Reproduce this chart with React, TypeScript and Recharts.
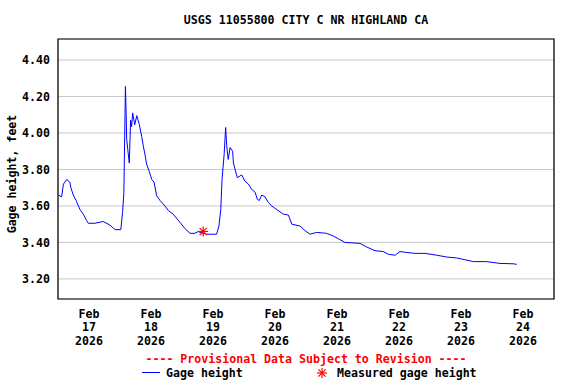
import { ComposedChart, Line, Scatter, XAxis, YAxis, CartesianGrid, ReferenceArea } from 'recharts';

// hours since Feb 17 2026 00:00
const hours = [
  0.1, 1.4, 2.1, 3.4, 4.6, 5.0, 5.9, 7.0, 8.5, 9.8, 11.1, 11.7, 14.3, 17.5, 20.1, 22.1,
  24.3, 25.0, 25.5, 26.1, 26.3, 26.6, 27.0, 27.6, 28.1, 28.5, 28.9, 29.7, 30.5, 31.5, 32.4,
  33.0, 33.7, 34.3, 35.3, 36.3, 37.2, 38.2, 39.5, 41.4, 42.7, 44.6, 47.2, 49.2, 51.1, 53.0,
  54.3, 55.0, 57.6, 61.4, 62.3, 63.0, 63.5, 64.3, 64.9, 65.3, 65.9, 66.6, 67.6, 67.9, 69.4,
  71.1, 72.4, 73.7, 75.0, 76.3, 77.2, 77.9, 78.9, 80.1, 81.4, 82.7, 84.7, 87.2, 89.2, 90.5,
  93.7, 95.6, 97.5, 100.1, 104.0, 106.6, 108.5, 111.1, 116.9, 119.5, 122.7, 125.9, 127.9,
  130.5, 132.4, 135.0, 138.2, 142.1, 146.6, 150.5, 154.3, 157.6, 160.8, 165.9, 171.1, 176.2, 177.6,
];

const gageHeight = [
  3.66, 3.65, 3.72, 3.745, 3.73, 3.70, 3.66, 3.63, 3.58, 3.555, 3.52, 3.505, 3.505, 3.515, 3.495, 3.47,
  3.47, 3.565, 3.675, 4.255, 4.155, 3.965, 3.91, 3.835, 4.07, 4.035, 4.11, 4.045, 4.095, 4.045, 3.98,
  3.93, 3.88, 3.83, 3.79, 3.745, 3.73, 3.655, 3.63, 3.60, 3.575, 3.555, 3.51, 3.475, 3.45, 3.45,
  3.46, 3.455, 3.445, 3.445, 3.49, 3.58, 3.745, 3.88, 4.03, 3.93, 3.855, 3.92, 3.90, 3.835, 3.755,
  3.77, 3.735, 3.72, 3.69, 3.675, 3.635, 3.63, 3.66, 3.65, 3.62, 3.60, 3.58, 3.555, 3.55, 3.50,
  3.49, 3.465, 3.445, 3.455, 3.45, 3.435, 3.42, 3.40, 3.395, 3.375, 3.355, 3.35, 3.335,
  3.33, 3.35, 3.345, 3.34, 3.34, 3.33, 3.32, 3.315, 3.305, 3.295, 3.295, 3.285, 3.283, 3.28,
];

const measuredHours = [56.2];
const measuredHeight = [3.46];

const labelTicks = [12, 36, 60, 84, 108, 132, 156, 180];
const dayTicks = [24, 48, 72, 96, 120, 144, 168];
const yTicks = [3.2, 3.4, 3.6, 3.8, 4.0, 4.2, 4.4];

const data = hours.map((t, i) => ({ t, gage: gageHeight[i] }));
const measured = measuredHours.map((t, i) => ({ t, m: measuredHeight[i] }));

const FONT = '"DejaVu Sans Mono", monospace';

const DateTick = ({ x, y, payload }: any) => {
  const day = 17 + Math.floor(payload.value / 24);
  return (
    <text x={x} y={y} textAnchor="middle" fontFamily={FONT} fontWeight="bold" fontSize={11.6} fill="#000">
      <tspan x={x} dy={11}>Feb</tspan>
      <tspan x={x} dy={13.3}>{day}</tspan>
      <tspan x={x} dy={13.3}>2026</tspan>
    </text>
  );
};

const Star = ({ cx, cy }: any) => {
  const r = 5;
  const d = 3.6;
  return (
    <g stroke="#ff0000" strokeWidth={1.2}>
      <line x1={cx - r} y1={cy} x2={cx + r} y2={cy} />
      <line x1={cx} y1={cy - r} x2={cx} y2={cy + r} />
      <line x1={cx - d} y1={cy - d} x2={cx + d} y2={cy + d} />
      <line x1={cx - d} y1={cy + d} x2={cx + d} y2={cy - d} />
    </g>
  );
};

const text = { fontFamily: FONT, fontWeight: 'bold' as const, fontSize: 11.6, lineHeight: '14px', whiteSpace: 'nowrap' as const };

export default function App() {
  return (
    <div style={{ position: 'absolute', left: 0, top: 0, width: 576, height: 384, background: '#fff' }}>
      <div style={{ ...text, position: 'absolute', left: 58, width: 496, top: 13, textAlign: 'center' }}>
        USGS 11055800 CITY C NR HIGHLAND CA
      </div>
      <div style={{ ...text, position: 'absolute', left: 12, top: 174, transform: 'translate(-50%, -50%) rotate(-90deg)' }}>
        Gage height, feet
      </div>
      <ComposedChart width={576} height={384} data={data} margin={{ top: 39, right: 22, left: 8, bottom: 35 }}>
        <CartesianGrid xAxisId="days" stroke="#c8c8c8" strokeWidth={1} />
        <XAxis
          dataKey="t"
          type="number"
          domain={[0, 192]}
          ticks={labelTicks}
          allowDataOverflow
          tick={<DateTick />}
          tickLine={false}
          axisLine={false}
          height={50}
          interval={0}
        />
        <XAxis
          xAxisId="days"
          dataKey="t"
          type="number"
          domain={[0, 192]}
          ticks={dayTicks}
          allowDataOverflow
          tick={false}
          tickLine={false}
          axisLine={false}
          height={0}
        />
        <YAxis
          type="number"
          domain={[3.09, 4.515]}
          ticks={yTicks}
          allowDataOverflow
          width={50}
          tickLine={false}
          axisLine={false}
          tickFormatter={(v: number) => v.toFixed(2)}
          tick={{ fontFamily: FONT, fontWeight: 'bold', fontSize: 11.6, fill: '#000' }}
          interval={0}
        />
        <ReferenceArea x1={0} x2={192} y1={3.09} y2={4.515} fill="none" stroke="#000" strokeWidth={1.2} />
        <Line
          type="linear"
          dataKey="gage"
          stroke="#0000ff"
          strokeWidth={1}
          dot={false}
          isAnimationActive={false}
        />
        <Scatter data={measured} dataKey="m" shape={<Star />} isAnimationActive={false} />
      </ComposedChart>
      <div style={{ ...text, position: 'absolute', left: 58, width: 496, top: 352, textAlign: 'center', color: '#ff0000' }}>
        ---- Provisional Data Subject to Revision ----
      </div>
      <div style={{ position: 'absolute', left: 142, top: 372, width: 18, height: 0, borderTop: '1px solid #0000ff' }} />
      <div style={{ ...text, position: 'absolute', left: 166, top: 366 }}>Gage height</div>
      <svg style={{ position: 'absolute', left: 316, top: 367 }} width={12} height={12}>
        <Star cx={6} cy={6} />
      </svg>
      <div style={{ ...text, position: 'absolute', left: 337, top: 366 }}>Measured gage height</div>
    </div>
  );
}
